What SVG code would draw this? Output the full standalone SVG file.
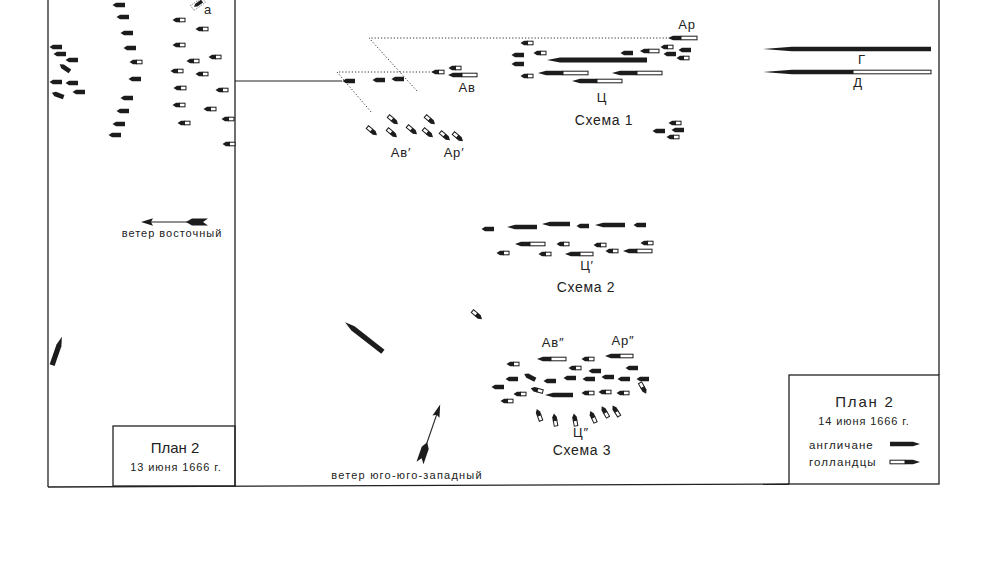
<svg xmlns="http://www.w3.org/2000/svg" xmlns:xlink="http://www.w3.org/1999/xlink" width="1000" height="587" viewBox="0 0 1000 587">
<style>
.b{fill:#1c1c1c}
.w{fill:#fff;stroke:#1c1c1c;stroke-width:1}
.fr{fill:none;stroke:#222;stroke-width:1.3}
.ln{fill:none;stroke:#222;stroke-width:1.1}
.dot{fill:none;stroke:#333;stroke-width:1;stroke-dasharray:1.2 2}
.t{font-family:"Liberation Sans",Arial,sans-serif;fill:#222;text-anchor:middle}
.s12{font-size:13px;letter-spacing:0.8px}
.s13{font-size:14px;letter-spacing:0.7px}
.s10{font-size:11px;letter-spacing:1px}
.s14{font-size:15px}
.lg{font-size:11.5px;letter-spacing:1.1px}
</style>
<defs>
<path id="e" class="b" d="M-6.5,0 L-3,-2.3 L6,-2.3 L6,2.3 L-3,2.3 Z"/>
<g id="d"><path class="b" d="M-6.5,0 L-3,-2.3 L0.8,-2.3 L0.8,2.3 L-3,2.3 Z"/><rect class="w" x="0.5" y="-1.8" width="5.5" height="3.6"/></g>
</defs>
<rect width="1000" height="587" fill="#fff"/>

<g id="frame">
<line class="fr" x1="48" y1="0" x2="48" y2="487"/>
<line class="fr" x1="48" y1="487" x2="789" y2="484"/>
<line class="fr" x1="235" y1="0" x2="235" y2="487"/>
<line class="fr" x1="939" y1="0" x2="939" y2="375"/>
</g>

<g id="connectors">
<line class="ln" x1="235" y1="81" x2="342" y2="81"/>
<path class="dot" d="M433,72 L337,72 L372,113"/>
<path class="dot" d="M667,38 L369,38 L417,91"/>
</g>

<g id="fleet-13">
<use xlink:href="#e" x="119" y="5"/>
<use xlink:href="#e" x="123" y="17"/>
<use xlink:href="#e" x="127" y="33"/>
<use xlink:href="#e" x="130" y="48"/>
<use xlink:href="#d" x="136" y="62"/>
<use xlink:href="#e" x="135" y="79"/>
<use xlink:href="#e" x="127" y="98"/>
<use xlink:href="#e" x="123" y="111"/>
<use xlink:href="#e" x="119" y="124"/>
<use xlink:href="#e" x="115" y="135"/>
<use xlink:href="#e" x="56" y="47"/>
<use xlink:href="#e" x="60" y="54"/>
<use xlink:href="#e" x="72" y="60"/>
<use xlink:href="#e" transform="translate(65,68) rotate(35)"/>
<use xlink:href="#e" x="56" y="82"/>
<use xlink:href="#e" x="72" y="83"/>
<use xlink:href="#e" x="79" y="92"/>
<use xlink:href="#e" transform="translate(58,95) rotate(20)"/>
<use xlink:href="#d" x="179" y="20"/>
<use xlink:href="#d" x="202" y="29"/>
<use xlink:href="#d" x="179" y="45"/>
<use xlink:href="#d" x="215" y="57"/>
<use xlink:href="#d" x="193" y="61"/>
<use xlink:href="#d" x="177" y="71"/>
<use xlink:href="#d" x="202" y="74"/>
<use xlink:href="#d" x="180" y="88"/>
<use xlink:href="#d" x="222" y="90"/>
<use xlink:href="#d" x="179" y="105"/>
<use xlink:href="#d" x="210" y="109"/>
<use xlink:href="#d" x="228" y="119"/>
<use xlink:href="#d" x="184" y="123"/>
<use xlink:href="#d" x="229" y="144"/>
<g transform="translate(198,4) rotate(-35)">
<rect x="-7" y="-3" width="14" height="6" fill="none" stroke="#555" stroke-width="0.8" stroke-dasharray="1 1.2"/>
<path class="b" d="M-5,0 L-2,-1.8 L5,-1.8 L5,1.8 L-2,1.8 Z"/>
</g>
<text class="t s12" x="208" y="14">a</text>
<path class="b" transform="translate(57,351) rotate(109)" d="M-15,0 L-6,-2.6 L15,-2.6 L15,2.6 L-6,2.6 Z"/>
</g>

<g id="wind-east">
<line class="ln" x1="150" y1="222" x2="192" y2="222"/>
<path class="b" d="M141,222 L153,218.3 L151,222 L153,225.7 Z"/>
<path class="b" d="M186,222 L192,218.5 L208,218.5 L203,222 L208,225.5 L192,225.5 Z"/>
<text class="t s10" x="172" y="237">ветер восточный</text>
</g>

<g id="scheme1">
<use xlink:href="#e" x="349" y="81"/>
<use xlink:href="#e" x="379" y="80"/>
<use xlink:href="#e" x="398" y="79"/>
<use xlink:href="#d" x="438" y="72"/>
<use xlink:href="#d" x="455" y="68"/>
<path class="b" d="M448,75 L453,72.7 L462,72.7 L462,77.3 L453,77.3 Z"/><rect class="w" x="462" y="73.2" width="15" height="3.6"/>
<text class="t s12" x="467" y="92">Ав</text>
<use xlink:href="#d" transform="translate(393,120) rotate(220)"/>
<use xlink:href="#d" transform="translate(372,131) rotate(220)"/>
<use xlink:href="#d" transform="translate(392,133) rotate(220)"/>
<use xlink:href="#d" transform="translate(412,130) rotate(220)"/>
<use xlink:href="#d" transform="translate(430,120) rotate(220)"/>
<use xlink:href="#d" transform="translate(428,133) rotate(220)"/>
<use xlink:href="#d" transform="translate(445,136) rotate(220)"/>
<use xlink:href="#d" transform="translate(458,137) rotate(220)"/>
<text class="t s12" x="401" y="157">Ав′</text>
<text class="t s12" x="454" y="157">Ар′</text>
<text class="t s12" x="687" y="29">Ар</text>
<path class="b" d="M668,38 L673,35.7 L681,35.7 L681,40.3 L673,40.3 Z"/><rect class="w" x="681" y="36.2" width="16" height="3.6"/>
<use xlink:href="#d" x="527" y="43"/>
<use xlink:href="#e" x="518" y="55"/>
<use xlink:href="#d" x="540" y="53"/>
<use xlink:href="#e" x="518" y="64"/>
<use xlink:href="#d" x="527" y="76"/>
<path class="b" d="M547,60 L560,57.5 L647,57.5 L647,62.5 L560,62.5 Z"/>
<path class="b" d="M538,73 L546,70.7 L563,70.7 L563,75.3 L546,75.3 Z"/><rect class="w" x="563" y="71.2" width="25" height="3.6"/>
<path class="b" d="M612,73 L620,70.7 L637,70.7 L637,75.3 L620,75.3 Z"/><rect class="w" x="637" y="71.2" width="25" height="3.6"/>
<path class="b" d="M572,81 L580,78.7 L597,78.7 L597,83.3 L580,83.3 Z"/><rect class="w" x="597" y="79.2" width="25" height="3.6"/>
<use xlink:href="#e" x="627" y="53"/>
<path class="b" d="M640,51 L644,48.7 L649,48.7 L649,53.3 L644,53.3 Z"/><rect class="w" x="649" y="49.2" width="10" height="3.6"/>
<use xlink:href="#d" x="667" y="47"/>
<use xlink:href="#e" x="670" y="54"/>
<use xlink:href="#e" x="685" y="50"/>
<use xlink:href="#d" x="683" y="58"/>
<text class="t s12" x="602" y="102">Ц</text>
<text class="t s13" x="604" y="125">Схема 1</text>
<use xlink:href="#d" x="675" y="123"/>
<use xlink:href="#e" x="659" y="131"/>
<use xlink:href="#e" x="678" y="130"/>
<use xlink:href="#d" x="673" y="137"/>
</g>

<g id="squadrons">
<path class="b" d="M763,49 L792,46.7 L931,46.7 L931,51.3 L792,51.3 Z"/>
<text class="t s12" x="862" y="64">Г</text>
<path class="b" d="M763,72 L792,69.7 L853,69.7 L853,74.3 L792,74.3 Z"/><rect class="w" x="853" y="70.2" width="78" height="3.6"/>
<text class="t s12" x="858" y="87">Д</text>
</g>

<g id="scheme2">
<use xlink:href="#e" x="488" y="229"/>
<path class="b" d="M507,227 L515,224.7 L537,224.7 L537,229.3 L515,229.3 Z"/>
<path class="b" d="M542,224 L550,221.7 L570,221.7 L570,226.3 L550,226.3 Z"/>
<use xlink:href="#e" x="583" y="226"/>
<path class="b" d="M595,225 L603,222.7 L625,222.7 L625,227.3 L603,227.3 Z"/>
<use xlink:href="#e" x="640" y="225"/>
<path class="b" d="M515,244 L521,241.7 L530,241.7 L530,246.3 L521,246.3 Z"/><rect class="w" x="530" y="242.2" width="15" height="3.6"/>
<use xlink:href="#d" x="563" y="244"/>
<use xlink:href="#d" x="600" y="245"/>
<use xlink:href="#d" x="647" y="243"/>
<use xlink:href="#d" x="503" y="253"/>
<use xlink:href="#d" x="545" y="254"/>
<path class="b" d="M565,254 L571,251.7 L580,251.7 L580,256.3 L571,256.3 Z"/><rect class="w" x="580" y="252.2" width="13" height="3.6"/>
<use xlink:href="#d" x="612" y="251"/>
<path class="b" d="M623,251 L629,248.7 L637,248.7 L637,253.3 L629,253.3 Z"/><rect class="w" x="637" y="249.2" width="15" height="3.6"/>
<text class="t s12" x="587" y="270">Ц′</text>
<text class="t s13" x="586" y="292">Схема 2</text>
</g>

<g id="scheme3">
<path class="b" transform="translate(364,337) rotate(38)" d="M-24,0 L-14,-2.6 L24,-2.6 L24,2.6 L-14,2.6 Z"/>
<use xlink:href="#d" transform="translate(477,315) rotate(220)"/>
<text class="t s12" x="553" y="347">Ав″</text>
<text class="t s12" x="623" y="345">Ар″</text>
<path class="b" d="M537,359 L543,356.7 L551,356.7 L551,361.3 L543,361.3 Z"/><rect class="w" x="551" y="357.2" width="15" height="3.6"/>
<use xlink:href="#d" x="588" y="359"/>
<path class="b" d="M605,356 L611,353.7 L620,353.7 L620,358.3 L611,358.3 Z"/><rect class="w" x="620" y="354.2" width="13" height="3.6"/>
<use xlink:href="#d" x="513" y="364"/>
<use xlink:href="#d" x="575" y="368"/>
<use xlink:href="#e" x="595" y="371"/>
<use xlink:href="#e" x="632" y="368"/>
<use xlink:href="#e" x="512" y="379"/>
<use xlink:href="#e" transform="translate(530,377) rotate(27)"/>
<use xlink:href="#e" x="550" y="381"/>
<use xlink:href="#e" x="570" y="378"/>
<use xlink:href="#e" x="589" y="379"/>
<use xlink:href="#e" x="608" y="377"/>
<use xlink:href="#e" x="624" y="379"/>
<use xlink:href="#e" x="643" y="379"/>
<use xlink:href="#e" x="498" y="387"/>
<use xlink:href="#d" x="520" y="394"/>
<use xlink:href="#d" transform="translate(537,390) rotate(15)"/>
<path class="b" d="M545,395 L553,392.7 L573,392.7 L573,397.3 L553,397.3 Z"/>
<use xlink:href="#d" x="588" y="393"/>
<use xlink:href="#d" x="605" y="392"/>
<use xlink:href="#d" x="623" y="393"/>
<use xlink:href="#d" transform="translate(643,388) rotate(240)"/>
<use xlink:href="#d" x="507" y="401"/>
<use xlink:href="#d" transform="translate(539,415) rotate(70)"/>
<use xlink:href="#d" transform="translate(555,420) rotate(80)"/>
<use xlink:href="#d" transform="translate(575,420) rotate(80)"/>
<use xlink:href="#d" transform="translate(593,417) rotate(65)"/>
<use xlink:href="#d" transform="translate(605,412) rotate(60)"/>
<use xlink:href="#d" transform="translate(616,411) rotate(58)"/>
<text class="t s12" x="581" y="437">Ц″</text>
<text class="t s13" x="582" y="455">Схема 3</text>
</g>

<g id="wind-ssw" transform="translate(420,463) rotate(-71)">
<line class="ln" x1="10" y1="0" x2="52" y2="0"/>
<path class="b" d="M62,0 L49,-3.7 L51,0 L49,3.7 Z"/>
<path class="b" d="M22,0 L16,-3.7 L0,-3.7 L5,0 L0,3.7 L16,3.7 Z"/>
</g>
<text class="t s10" x="407" y="479" style="letter-spacing:1.2px">ветер юго-юго-западный</text>

<g id="plan-13">
<rect class="fr" x="113" y="426" width="122" height="60"/>
<text class="t s14" x="175" y="453">План 2</text>
<text class="t s10" x="176" y="471" style="letter-spacing:0.9px">13 июня 1666 г.</text>
</g>

<g id="plan-14">
<rect class="fr" x="789" y="375" width="150" height="109"/>
<text class="t s14" x="865" y="407" letter-spacing="1.8">План 2</text>
<text class="t s10" x="864" y="425" style="letter-spacing:0.9px">14 июня 1666 г.</text>
<text class="t lg" x="809" y="449" style="text-anchor:start">англичане</text>
<path class="b" d="M890,441.7 L913,441.7 L920,444 L913,446.3 L890,446.3 Z"/>
<text class="t lg" x="809" y="466" style="text-anchor:start">голландцы</text>
<rect class="w" x="890" y="460.2" width="15" height="3.6"/>
<path class="b" d="M905,459.7 L913,459.7 L920,462 L913,464.3 L905,464.3 Z"/>
</g>
</svg>
